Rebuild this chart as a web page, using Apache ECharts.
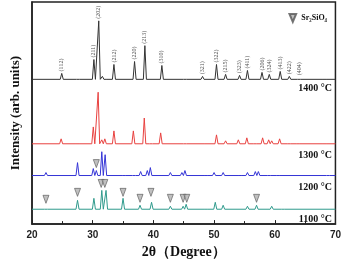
<!DOCTYPE html>
<html>
<head>
<meta charset="utf-8">
<script src="https://cdn.jsdelivr.net/npm/echarts@6/dist/echarts.min.js"></script>
<style>
  html, body { margin: 0; padding: 0; background: #fff; }
  #chart { width: 344px; height: 264px; }
</style>
</head>
<body>
<div id="chart"></div>
<script>
// 2θ range and tick labels
const xTicks = [20, 30, 40, 50, 60, 70]

// curve names and vertical offsets (arb. units)
const temps = ['1400 °C', '1300 °C', '1200 °C', '1100 °C']
const baselines = [146, 81, 49, 15]

// peaks: [2θ, height above baseline]
const peaks1400 = [[24.9, 6], [27.6, 1.5], [30.2, 20], [31.0, 59], [31.6, 3], [32.1, 2], [33.5, 15], [36.9, 18],
  [38.6, 34], [41.4, 14], [45.2, 1.5], [48.1, 3], [50.4, 15], [51.9, 5], [54.2, 4], [55.5, 9], [57.9, 7],
  [59.1, 5], [60.9, 8], [62.4, 3], [64.0, 2], [68.2, 2]]
const peaks1300 = [[24.8, 5], [27.5, 2], [30.1, 17], [30.9, 52], [31.5, 4], [32.0, 5], [33.5, 13], [36.7, 13],
  [38.5, 26], [39.6, 2], [41.2, 11], [45.2, 1.5], [48.1, 2], [50.4, 9], [51.9, 3], [54.0, 4], [55.4, 6],
  [56.7, 1], [58.0, 6], [59.0, 4], [59.5, 3], [60.8, 5], [62.3, 2], [63.9, 1.5], [68.2, 1.5]]
const peaks1200 = [[22.3, 3], [27.5, 13], [30.1, 7], [30.6, 5], [31.5, 24], [32.05, 21], [35.1, 2], [36.8, 2],
  [37.9, 4], [39.0, 5], [39.5, 8], [42.8, 3], [44.7, 3], [45.2, 5], [48.6, 2], [50.0, 3], [51.5, 3],
  [54.2, 2], [55.5, 3], [56.8, 4], [57.3, 4], [59.1, 2], [60.6, 1], [68.8, 1.5]]
const peaks1100 = [[22.3, 2], [27.5, 9], [30.2, 11], [31.5, 19], [32.2, 19], [35.0, 11], [37.8, 4], [39.7, 7],
  [42.8, 3], [44.9, 3], [45.4, 5], [48.6, 2], [50.2, 7], [51.5, 4], [55.5, 3], [57.0, 4], [59.5, 3], [61.4, 1]]

// (hkl) indexing of the 1400 °C pattern
const hklNames = ['(112)', '(211)', '(202)', '(212)', '(220)', '(213)', '(310)', '(321)', '(322)', '(215)',
  '(323)', '(411)', '(206)', '(324)', '(413)', '(422)', '(404)']
const hklAngles = [24.9, 30.2, 31.0, 33.5, 36.9, 38.6, 41.4, 48.1, 50.4, 51.9, 54.2, 55.5, 57.9, 59.1, 60.9, 62.4, 64.0]

// Sr2SiO4 markers: [2θ, level]
const sr2sio4Marks = [[30.6, 61], [22.3, 25], [27.5, 32], [31.4, 41], [32.0, 41], [35.0, 32], [37.8, 26],
  [39.6, 32], [42.8, 26], [44.9, 26], [45.5, 26], [57.0, 26]]

const colors = ['#333333', '#e8413f', '#3434d6', '#2f9a8c']
const serif = 'Liberation Serif'

// build a polyline from the peak list
const buildCurve = (peaks, base) => {
  const pts = [[20, base]]
  peaks.forEach(([t, h]) => {
    pts.push([t - 0.25, base], [t, base + h], [t + 0.25, base])
  })
  pts.push([70, base])
  return pts
}

const allPeaks = [peaks1400, peaks1300, peaks1200, peaks1100]

const chart = echarts.init(document.getElementById('chart'))

const lineSeries = allPeaks.map((pk, i) => ({
  name: temps[i],
  type: 'line',
  showSymbol: false,
  silent: true,
  lineStyle: { color: colors[i], width: 1 },
  data: buildCurve(pk, baselines[i])
}))

const hklData = hklNames.map((n, i) => {
  const pk = peaks1400.find(p => p[0] === hklAngles[i])
  return { name: n, value: [hklAngles[i], baselines[0] + pk[1]] }
})

const option = {
  animation: false,
  grid: {
    left: 32, right: 8, top: 2, bottom: 38,
    show: true, borderColor: '#222', borderWidth: 1.5
  },
  legend: {
    data: ['Sr₂SiO₄'],
    right: 12, top: 8,
    itemWidth: 7, itemHeight: 8, itemGap: 4,
    icon: 'path://M0,0 L10,0 L5,12 Z',
    textStyle: { fontFamily: serif, fontWeight: 'bold', fontSize: 8, color: '#111' }
  },
  xAxis: {
    type: 'value', min: 20, max: 70, interval: 10,
    name: '2θ（Degree）', nameLocation: 'middle', nameGap: 20,
    nameTextStyle: { fontFamily: serif, fontWeight: 'bold', fontSize: 14, color: '#111' },
    axisLine: { lineStyle: { color: '#222', width: 1.5 } },
    axisTick: { inside: true, length: 4, lineStyle: { color: '#222' } },
    minorTick: { show: true, splitNumber: 2, length: 3, lineStyle: { color: '#222' } },
    splitLine: { show: false },
    axisLabel: {
      margin: 6, fontFamily: 'Liberation Sans', fontWeight: 'bold', fontSize: 10, color: '#222',
      formatter: v => (xTicks.includes(v) ? String(v) : '')
    }
  },
  yAxis: {
    type: 'value', min: 0, max: 224,
    name: 'Intensity (arb. units)', nameLocation: 'middle', nameGap: 10,
    nameTextStyle: { fontFamily: serif, fontWeight: 'bold', fontSize: 13, color: '#111' },
    axisLine: { show: true, lineStyle: { color: '#222', width: 1.5 } },
    axisTick: { show: false },
    axisLabel: { show: false },
    splitLine: { show: false }
  },
  series: [
    ...lineSeries,
    {
      name: 'hkl',
      type: 'scatter',
      symbolSize: 0,
      silent: true,
      data: hklData,
      label: {
        show: true,
        position: 'top',
        distance: 2,
        rotate: 90,
        align: 'left',
        verticalAlign: 'middle',
        formatter: '{b}',
        fontFamily: serif,
        fontSize: 6,
        color: '#222'
      }
    },
    {
      name: 'Sr₂SiO₄',
      type: 'scatter',
      symbol: 'triangle',
      symbolRotate: 180,
      symbolSize: [6, 8],
      silent: true,
      itemStyle: { color: '#b0b0b0', borderColor: '#555', borderWidth: 0.8 },
      data: sr2sio4Marks
    }
  ],
  graphic: temps.map((t, i) => ({
    type: 'text',
    right: 12,
    top: [83, 150, 182, 214][i],
    style: {
      text: t,
      fontFamily: serif,
      fontWeight: 'bold',
      fontSize: 10,
      fill: '#111'
    }
  }))
}

chart.setOption(option)
</script>
</body>
</html>
